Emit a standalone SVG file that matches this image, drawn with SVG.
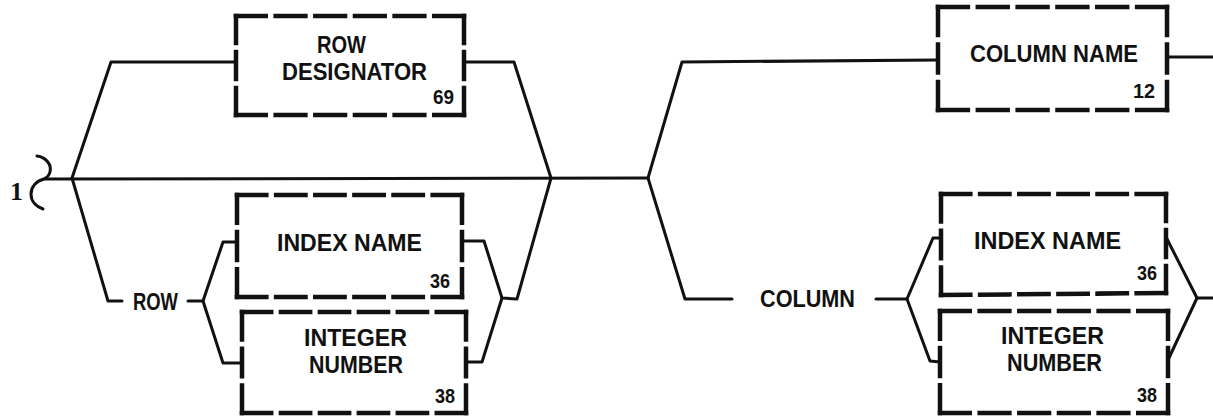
<svg xmlns="http://www.w3.org/2000/svg" width="1213" height="417" viewBox="0 0 1213 417">
<style>
.bg{fill:#fff}
.dh{fill:none;stroke:#111;stroke-width:4.5;stroke-linecap:square;stroke-dasharray:3 1}
.dv{fill:none;stroke:#111;stroke-width:4.5;stroke-linecap:square;stroke-dasharray:3 1}
.ln{fill:none;stroke:#111;stroke-width:3;stroke-linejoin:round;stroke-linecap:round}
.t{font-family:"Liberation Sans",Arial,sans-serif;font-weight:bold;font-size:23px;fill:#111}
.n{font-family:"Liberation Sans",Arial,sans-serif;font-weight:bold;font-size:21px;fill:#111}
.one{font-family:"Liberation Serif","Times New Roman",serif;font-weight:bold;font-size:26px;fill:#111}
</style>
<rect class="bg" x="0" y="0" width="1213" height="417"/>

<g id="connectors">
  <path class="ln" d="M37,156 C46,157 52,165 50,172 C49,176 46,178 44,179 C36,181 31,187 31,194 C31,202 37,207 43,209"/>
  <path class="ln" d="M45,179 L648,178"/>
  <path class="ln" d="M72,178 L111,62 L236,62"/>
  <path class="ln" d="M464,62 L514,62 L551,178"/>
  <path class="ln" d="M72,178 L108,301 L122,301"/>
  <path class="ln" d="M188,301 L203,301"/>
  <path class="ln" d="M237,242 L223,242 L203,301 L223,363 L242,363"/>
  <path class="ln" d="M462,241 L484,241 L502,298 L517,299 L551,178"/>
  <path class="ln" d="M466,362 L482,362 L502,298"/>
  <path class="ln" d="M648,178 L682,62 L938,60"/>
  <path class="ln" d="M648,178 L685,299 L732,299"/>
  <path class="ln" d="M876,299 L907,299"/>
  <path class="ln" d="M941,238 L933,238 L907,299 L930,361 L940,362"/>
  <path class="ln" d="M1167,57 L1213,57"/>
  <path class="ln" d="M1166,237 L1197,298 L1213,298"/>
  <path class="ln" d="M1168,360 L1197,298"/>
</g>

<g id="start">
  <text class="one" x="10" y="200">1</text>
</g>

<g id="row-designator">
  <path class="dh" pathLength="23" d="M236,16 L464,16"/>
  <path class="dh" pathLength="23" d="M236,115 L464,115"/>
  <path class="dv" pathLength="11" d="M236,16 L236,115"/>
  <path class="dv" pathLength="11" d="M464,16 L464,115"/>
  <text class="t" x="317" y="53" textLength="49" lengthAdjust="spacingAndGlyphs">ROW</text>
  <text class="t" x="282" y="80" textLength="145" lengthAdjust="spacingAndGlyphs">DESIGNATOR</text>
  <text class="n" x="433" y="104" textLength="21" lengthAdjust="spacingAndGlyphs">69</text>
</g>

<g id="row-label">
  <text class="t" x="133" y="310" textLength="45" lengthAdjust="spacingAndGlyphs">ROW</text>
</g>

<g id="row-index-name">
  <path class="dh" pathLength="23" d="M237,195 L462,195"/>
  <path class="dh" pathLength="23" d="M237,297 L462,297"/>
  <path class="dv" pathLength="11" d="M237,195 L237,297"/>
  <path class="dv" pathLength="11" d="M462,195 L462,297"/>
  <text class="t" x="277" y="251" textLength="145" lengthAdjust="spacingAndGlyphs">INDEX NAME</text>
  <text class="n" x="430" y="288" textLength="20" lengthAdjust="spacingAndGlyphs">36</text>
</g>

<g id="row-integer-number">
  <path class="dh" pathLength="23" d="M242,312 L466,312"/>
  <path class="dh" pathLength="23" d="M242,413 L466,413"/>
  <path class="dv" pathLength="11" d="M242,312 L242,413"/>
  <path class="dv" pathLength="11" d="M466,312 L466,413"/>
  <text class="t" x="304" y="346" textLength="103" lengthAdjust="spacingAndGlyphs">INTEGER</text>
  <text class="t" x="309" y="373" textLength="94" lengthAdjust="spacingAndGlyphs">NUMBER</text>
  <text class="n" x="435" y="403" textLength="20" lengthAdjust="spacingAndGlyphs">38</text>
</g>

<g id="column-name">
  <path class="dh" pathLength="23" d="M938,7 L1167,7"/>
  <path class="dh" pathLength="23" d="M938,110 L1167,110"/>
  <path class="dv" pathLength="11" d="M938,7 L938,110"/>
  <path class="dv" pathLength="11" d="M1167,7 L1167,110"/>
  <text class="t" x="970" y="62" textLength="168" lengthAdjust="spacingAndGlyphs">COLUMN NAME</text>
  <text class="n" x="1133" y="98" textLength="22" lengthAdjust="spacingAndGlyphs">12</text>
</g>

<g id="column-label">
  <text class="t" x="760" y="307" textLength="95" lengthAdjust="spacingAndGlyphs">COLUMN</text>
</g>

<g id="column-index-name">
  <path class="dh" pathLength="23" d="M941,194 L1166,194"/>
  <path class="dh" pathLength="23" d="M941,295 L1166,293"/>
  <path class="dv" pathLength="11" d="M941,194 L941,295"/>
  <path class="dv" pathLength="11" d="M1166,194 L1166,293"/>
  <text class="t" x="974" y="249" textLength="147" lengthAdjust="spacingAndGlyphs">INDEX NAME</text>
  <text class="n" x="1137" y="280" textLength="20" lengthAdjust="spacingAndGlyphs">36</text>
</g>

<g id="column-integer-number">
  <path class="dh" pathLength="23" d="M940,311 L1168,311"/>
  <path class="dh" pathLength="23" d="M940,413 L1168,413"/>
  <path class="dv" pathLength="11" d="M940,311 L940,413"/>
  <path class="dv" pathLength="11" d="M1168,311 L1168,413"/>
  <text class="t" x="1001" y="344" textLength="103" lengthAdjust="spacingAndGlyphs">INTEGER</text>
  <text class="t" x="1007" y="371" textLength="95" lengthAdjust="spacingAndGlyphs">NUMBER</text>
  <text class="n" x="1137" y="402" textLength="20" lengthAdjust="spacingAndGlyphs">38</text>
</g>
</svg>
